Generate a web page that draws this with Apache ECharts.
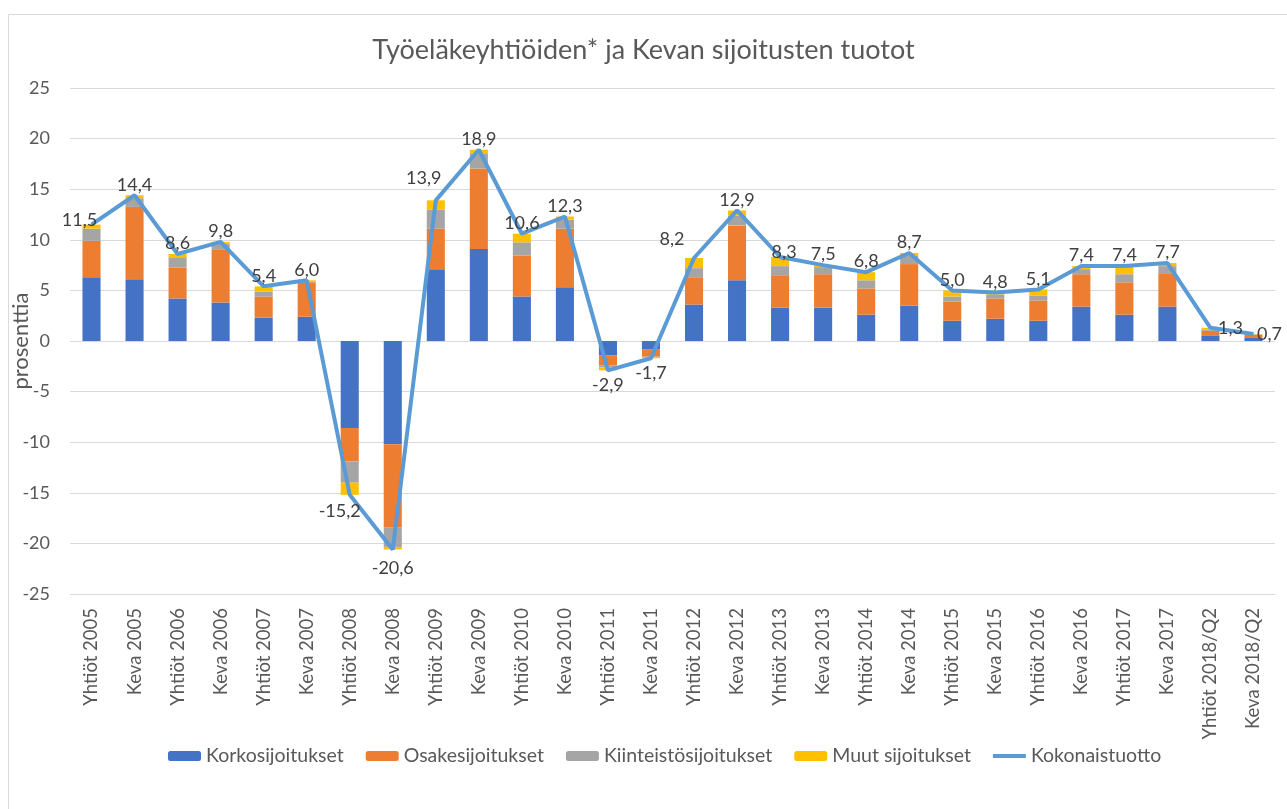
<!DOCTYPE html>
<html>
<head>
<meta charset="utf-8">
<script src="https://cdn.jsdelivr.net/npm/echarts@6/dist/echarts.min.js"></script>
<style>html,body{margin:0;padding:0;background:#fff;}#c{width:1287px;height:809px;}</style>
</head>
<body>
<div id="c"></div>
<script>
const categories = ["Yhtiöt 2005","Keva 2005","Yhtiöt 2006","Keva 2006","Yhtiöt 2007","Keva 2007","Yhtiöt 2008","Keva 2008","Yhtiöt 2009","Keva 2009","Yhtiöt 2010","Keva 2010","Yhtiöt 2011","Keva 2011","Yhtiöt 2012","Keva 2012","Yhtiöt 2013","Keva 2013","Yhtiöt 2014","Keva 2014","Yhtiöt 2015","Keva 2015","Yhtiöt 2016","Keva 2016","Yhtiöt 2017","Keva 2017","Yhtiöt 2018/Q2","Keva 2018/Q2"];
const korko   = [6.3, 6.1, 4.2, 3.8, 2.3, 2.4, -8.6, -10.2, 7.1, 9.1, 4.4, 5.3, -1.4, -0.8, 3.6, 6.0, 3.3, 3.3, 2.6, 3.5, 2.0, 2.2, 2.0, 3.4, 2.6, 3.4, 0.5, 0.3];
const osake   = [3.6, 7.15, 3.05, 5.2, 2.1, 3.4, -3.3, -8.2, 4.0, 7.95, 4.05, 5.8, -1.0, -0.75, 2.7, 5.4, 3.2, 3.3, 2.6, 4.1, 1.9, 2.0, 2.0, 3.2, 3.2, 3.3, 0.5, 0.3];
const kiinteisto = [1.2, 0.85, 0.95, 0.6, 0.5, 0.1, -2.1, -1.95, 1.9, 1.5, 1.3, 0.9, -0.2, -0.1, 0.9, 1.0, 0.9, 0.7, 0.8, 0.8, 0.5, 0.4, 0.5, 0.5, 0.8, 0.7, 0.1, 0.05];
const muut    = [0.4, 0.3, 0.4, 0.2, 0.5, 0.1, -1.2, -0.25, 0.9, 0.35, 0.85, 0.3, -0.3, -0.05, 1.0, 0.5, 0.9, 0.2, 0.8, 0.3, 0.6, 0.2, 0.6, 0.3, 0.8, 0.3, 0.2, 0.05];
const kokonais = [11.5, 14.4, 8.6, 9.8, 5.4, 6.0, -15.2, -20.6, 13.9, 18.9, 10.6, 12.3, -2.9, -1.7, 8.2, 12.9, 8.3, 7.5, 6.8, 8.7, 5.0, 4.8, 5.1, 7.4, 7.4, 7.7, 1.3, 0.7];
const yTicks = [-25, -20, -15, -10, -5, 0, 5, 10, 15, 20, 25];

const labelPos = {
  0: {position: 'top', offset: [-12, 6]},
  6: {position: 'bottom', offset: [-10, 6]},
  7: {position: 'bottom', offset: [0, 8]},
  8: {position: 'top', offset: [-12, -12]},
  12: {position: 'bottom', offset: [0, 4]},
  13: {position: 'bottom', offset: [0, 4]},
  14: {position: 'top', offset: [-22, -8]},
  16: {position: 'top', offset: [4, 6]},
  26: {position: 'right', offset: [6, 0]},
  27: {position: 'right', offset: [2, 0]}
};
const lineData = kokonais.map((v, i) => {
  const o = {value: v};
  if (labelPos[i]) o.label = labelPos[i];
  return o;
});

const font = "Lato, sans-serif";
const txt = '#595959';
const chart = echarts.init(document.getElementById('c'));
const barBase = {type: 'bar', stack: 'total', barWidth: '42%'};
chart.setOption({
  animation: false,
  textStyle: {fontFamily: font},
  graphic: [{type: 'rect', shape: {x: 8.5, y: 14.5, width: 1300, height: 820}, style: {fill: 'none', stroke: '#d9d9d9', lineWidth: 1}}],
  title: {text: 'Työeläkeyhtiöiden* ja Kevan sijoitusten tuotot', left: 'center', top: 32,
    textStyle: {fontFamily: font, fontSize: 27, fontWeight: 'normal', color: txt}},
  legend: {bottom: 38, left: 163, itemWidth: 33, itemHeight: 10, itemGap: 22,
    textStyle: {fontFamily: font, fontSize: 19.5, color: txt},
    data: ['Korkosijoitukset', 'Osakesijoitukset', 'Kiinteistösijoitukset', 'Muut sijoitukset',
      {name: 'Kokonaistuotto', icon: 'path://M0,0 L33,0 L33,4 L0,4 Z', itemStyle: {color: '#5B9BD5'}}]},
  grid: {left: 70, right: 12, top: 88, bottom: 215, containLabel: false, outerBoundsMode: 'none'},
  xAxis: {type: 'category', data: categories, position: 'bottom',
    axisLine: {show: false, onZero: false}, axisTick: {show: false},
    axisLabel: {rotate: 90, fontFamily: font, fontSize: 18.5, color: txt, margin: 14, interval: 0}},
  yAxis: {type: 'value', min: yTicks[0], max: yTicks[yTicks.length - 1], interval: 5,
    name: 'prosenttia', nameLocation: 'middle', nameGap: 38, nameRotate: 90, nameMoveOverlap: false,
    nameTextStyle: {fontFamily: font, fontSize: 22, color: txt},
    axisLine: {show: false}, axisTick: {show: false},
    axisLabel: {fontFamily: font, fontSize: 18, color: txt, margin: 20},
    splitLine: {lineStyle: {color: '#d9d9d9', width: 1}}},
  series: [
    Object.assign({name: 'Korkosijoitukset', data: korko, itemStyle: {color: '#4472C4'}}, barBase),
    Object.assign({name: 'Osakesijoitukset', data: osake, itemStyle: {color: '#ED7D31'}}, barBase),
    Object.assign({name: 'Kiinteistösijoitukset', data: kiinteisto, itemStyle: {color: '#A5A5A5'}}, barBase),
    Object.assign({name: 'Muut sijoitukset', data: muut, itemStyle: {color: '#FFC000'}}, barBase),
    {name: 'Kokonaistuotto', type: 'line', data: lineData, symbol: 'circle', symbolSize: 1, showSymbol: true, z: 5,
      lineStyle: {color: '#5B9BD5', width: 4}, itemStyle: {color: '#5B9BD5'},
      label: {show: true, position: 'top', distance: 1, fontFamily: font, fontSize: 18, color: '#404040',
        formatter: p => p.value.toFixed(1).replace('.', ',')}}
  ]
});
</script>
</body>
</html>
